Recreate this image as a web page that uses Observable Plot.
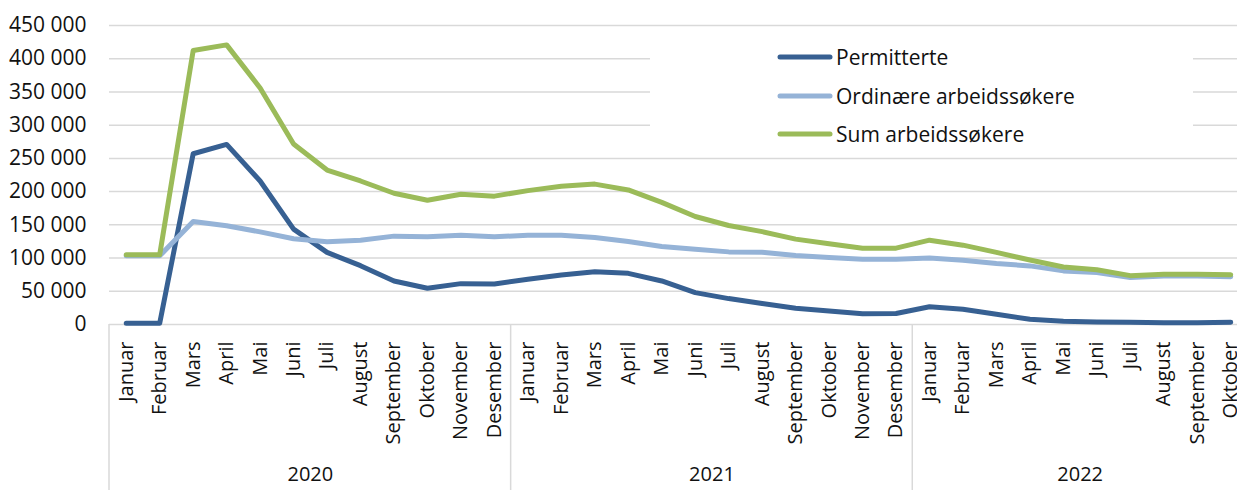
<!DOCTYPE html>
<html><head><meta charset="utf-8">
<script src="https://cdn.jsdelivr.net/npm/d3@7"></script>
<script src="https://cdn.jsdelivr.net/npm/@observablehq/plot@0.6"></script>
<style>
html,body{margin:0;padding:0;background:#fff;overflow:hidden}
#wrap{position:relative;width:1237px;height:490px;font-family:"Open Sans",sans-serif;color:#111}
#legend{position:absolute;left:650px;top:36px;width:543px;height:114px;background:#fff}
.item{position:absolute;left:127px;height:30px;display:flex;align-items:center;font-size:21px;white-space:nowrap}
.item svg{margin-right:3px}
</style></head><body>
<div id="wrap"><div id="chart"></div><div id="legend"></div></div>
<script>
const months = ["Januar","Februar","Mars","April","Mai","Juni","Juli","August","September","Oktober","November","Desember"];
const years = ["2020","2021","2022"];
const monthsPerYear = [12, 12, 10];
const seriesNames = ["Permitterte","Ordinære arbeidssøkere","Sum arbeidssøkere"];
const seriesColors = ["#376092","#95b3d7","#9bbb59"];
const yTicks = [0,50000,100000,150000,200000,250000,300000,350000,400000,450000];

const permitterte = [2000,2000,257000,271000,216000,143500,108500,88500,65500,54500,61500,61000,
  68000,74500,79500,77000,65500,48000,39000,31500,24500,20300,16300,16500,
  26800,22900,15400,7800,4800,3800,3300,2800,2800,3500];
const ordinaere = [103300,103300,155000,148500,139400,129000,124400,126900,133000,131900,134400,132000,
  134400,134400,130900,124800,117300,113300,109300,108800,103700,101000,98300,98300,
  100200,96700,91700,88200,80700,78100,70600,73100,73100,72000];
const sumArbeid = [105000,105000,412300,420800,356000,271600,232400,216000,197500,187000,196000,193200,
  201500,208000,211300,202500,183800,162500,149000,139800,128500,121500,114800,114900,
  126900,119400,108500,97000,86500,82500,73500,75800,75700,75000];

const allSeries = [permitterte, ordinaere, sumArbeid];
const rows = [];
allSeries.forEach((arr, s) => arr.forEach((v, i) => rows.push({i, value: v, series: seriesNames[s]})));
const idx = d3.range(permitterte.length);

const yearRows = [];
let start = 0;
years.forEach((y, k) => { yearRows.push({year: y, center: start + (monthsPerYear[k] - 1) / 2, first: start}); start += monthsPerYear[k]; });

const fmt = d => d3.format(",")(d).replace(/,/g, " ");

const plot = Plot.plot({
  width: 1237, height: 490,
  marginLeft: 109, marginRight: 0, marginTop: 25, marginBottom: 166,
  style: {fontFamily: "'Open Sans', sans-serif", fontSize: "20px", color: "#111", background: "#fff", overflow: "visible"},
  x: {type: "linear", domain: [-0.5, idx.length - 0.5], range: [109, 109 + 33.47 * idx.length], label: null},
  y: {domain: [0, 450000], range: [324, 25], label: null},
  color: {domain: seriesNames, range: seriesColors},
  marks: [
    Plot.ruleY(yTicks, {y: d => d, stroke: "#d9d9d9", strokeWidth: 1.5}),
    Plot.axisY(yTicks, {tickSize: 0, tickPadding: 23, tickFormat: fmt, fontSize: 21, fill: "#111"}),
    Plot.axisX(idx, {tickSize: 0, tickPadding: 17, tickRotate: -90, tickFormat: i => months[i % 12], fontSize: 20, fill: "#111"}),
    Plot.text(yearRows, {x: "center", text: "year", frameAnchor: "bottom", dy: 156, fontSize: 20, fill: "#111"}),
    Plot.lineY(rows, {x: "i", y: "value", z: "series", stroke: "series", strokeWidth: 5, strokeLinejoin: "round", strokeLinecap: "round"})
  ]
});
document.getElementById("chart").appendChild(plot);

// category axis separators (year boundaries + left edge), drawn with the plot's x scale
const xs = plot.scale("x");
const svg = d3.select(plot);
const seps = yearRows.map(r => r.first - 0.5);
svg.insert("g", ":first-child").selectAll("line").data(seps).join("line")
  .attr("x1", d => xs.apply(d)).attr("x2", d => xs.apply(d))
  .attr("y1", 324).attr("y2", 490)
  .attr("stroke", "#d9d9d9").attr("stroke-width", 1.5);

// legend
const legend = document.getElementById("legend");
const tops = [21, 59.5, 98];
seriesNames.forEach((n, k) => {
  const d = document.createElement("div");
  d.className = "item";
  d.style.top = (tops[k] - 15) + "px";
  d.innerHTML = `<svg width="56" height="10"><line x1="3" y1="5" x2="53" y2="5" stroke="${seriesColors[k]}" stroke-width="5" stroke-linecap="round"/></svg><span>${n}</span>`;
  legend.appendChild(d);
});
</script>
</body></html>
